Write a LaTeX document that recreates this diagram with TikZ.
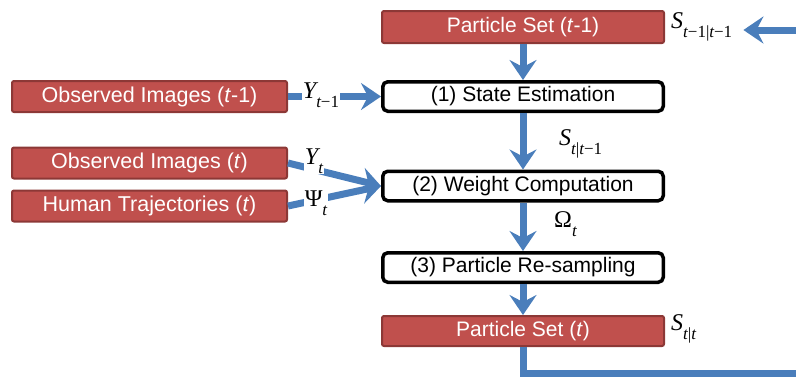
\documentclass[tikz,border=0pt]{standalone}
\usepackage{fontspec}
\setmainfont{Liberation Sans}
\newfontfamily\tms{Liberation Serif}
\usetikzlibrary{arrows.meta}
\definecolor{redf}{HTML}{C0504D}
\definecolor{redd}{HTML}{8C3836}
\definecolor{blu}{HTML}{4A7EBB}
\newcommand{\mlab}[2]{{\tms\fontsize{24}{24}\selectfont #1\raisebox{-0.36em}{\fontsize{17}{17}\selectfont #2}}}
\begin{document}
\begin{tikzpicture}[x=1pt,y=-1pt,font=\fontsize{21}{21}\selectfont,
  redbox/.style={fill=redf,draw=redd,line width=2pt,rounded corners=2pt,text=white,inner sep=0pt,minimum width=282pt,minimum height=32pt},
  leftbox/.style={redbox,minimum width=275pt,minimum height=31pt,font=\fontsize{21.5}{21.5}\selectfont},
  stepbox/.style={draw=black,line width=3.5pt,rounded corners=5pt,fill=white,minimum width=280.5pt,minimum height=29.5pt,inner sep=0pt},
  flow/.style={draw=blu,line width=7pt,-{Stealth[length=20pt,width=27pt,inset=7pt]}},
  plainflow/.style={draw=blu,line width=7pt},
  mathlab/.style={inner sep=1pt},
  covlab/.style={mathlab,fill=white}]
\useasboundingbox (0,0) rectangle (796,376);
% main column
\node[redbox] (ps1) at (523,27) {Particle Set (\textit{t}-1)};
\node[stepbox] (se) at (523,96.5) {(1) State Estimation};
\node[stepbox] (wc) at (523,186) {(2) Weight Computation};
\node[stepbox] (rs) at (523,267.5) {(3) Particle Re-sampling};
\node[redbox,minimum height=30pt] (ps2) at (523,331) {Particle Set (\textit{t})};
% left inputs
\node[leftbox] (oi1) at (149.5,96.5) {Observed Images (\textit{t}-1)};
\node[leftbox] (oi2) at (149.5,163) {Observed Images (\textit{t})};
\node[leftbox] (ht) at (149.5,206) {Human Trajectories (\textit{t})};
% labels
\node[mathlab,anchor=west] (s1) at (670,27) {\mlab{\itshape S}{\itshape t\upshape −1|\itshape t\upshape −1}};
\node[mathlab,anchor=west] (sa) at (558,144) {\mlab{\itshape S}{\itshape t\upshape |\itshape t\upshape −1}};
\node[mathlab,anchor=west] (om) at (553,224) {\mlab{Ω}{\itshape t}};
\node[mathlab,anchor=west] (s2) at (670,329) {\mlab{\itshape S}{\itshape t\upshape |\itshape t}};
% loop coordinates
\coordinate (out1) at (799,373);
\coordinate (in1) at (799,30);
% connectors
\draw[flow] (ps1) -- (se);
\draw[flow] (se) -- (wc);
\draw[flow] (wc) -- (rs);
\draw[flow] (rs) -- (ps2);
\draw[flow] (oi1.east) -- (se.west);
\draw[flow] (oi2.east) -- (wc.west);
\draw[flow] (ht.east) -- (wc.west);
\draw[plainflow] (ps2.south) |- (out1);
\draw[flow,shorten >=10pt] (in1) -- (s1.east |- in1);
% covering labels on the input arrows
\node[covlab] (y1) at (321,95) {\mlab{\itshape Y}{\itshape t\upshape −1}};
\node[covlab] (y2) at (314,161) {\mlab{\itshape Y}{\itshape t}};
\node[covlab] (psi) at (316,203) {\mlab{Ψ}{\itshape t}};
\end{tikzpicture}
\end{document}
